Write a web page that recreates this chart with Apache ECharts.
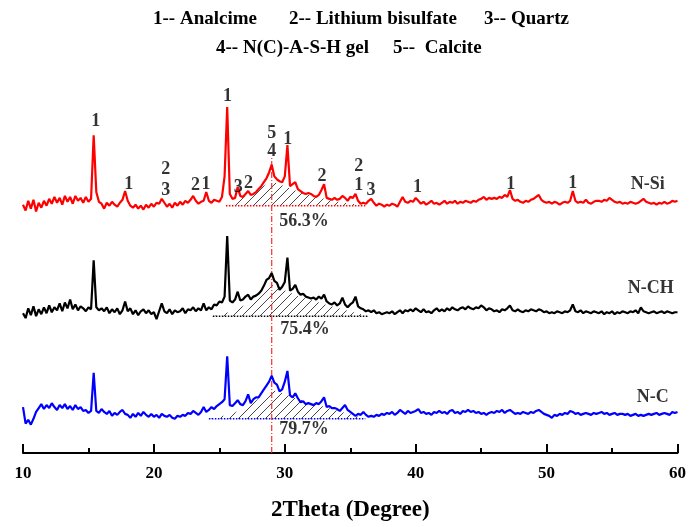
<!DOCTYPE html>
<html>
<head>
<meta charset="utf-8">
<script src="https://cdn.jsdelivr.net/npm/echarts@6/dist/echarts.min.js"></script>
<style>
html, body { margin: 0; padding: 0; background: #fff; }
#main { width: 689px; height: 527px; }
</style>
</head>
<body>
<div id="main"></div>
<script>
// 2θ scan grid, 0.2 degree step
var twoTheta = [];
for (var i = 0; i <= 250; i++) twoTheta.push(+(10 + i * 0.2).toFixed(1));

// intensities, relative to each pattern's baseline
var nSi = [
    1, -5, 5, -3, 6, -6, 3, -2, 5, 0,
    7, 2, 9, 3, 8, 1, 10, 4, 9, 2,
    10, 5, 8, 3, 9, 4, 7, 72, 14, 4,
    2, -3, 3, 0, 4, 1, -1, 3, 6, 15,
    5, 0, -2, 1, -3, 0, -4, 1, -2, 2,
    -1, 3, 2, 7, 3, -1, 2, -2, 3, 0,
    4, 1, 5, 3, 6, 10, 5, 2, 4, 5,
    14, 5, 3, 6, 5, 4, 9, 30, 101, 12,
    7, 8, 19, 10, 9, 12, 15, 11, 12, 14,
    17, 20, 24, 28, 34, 42, 30, 27, 25, 24,
    30, 62, 20, 22, 24, 17, 15, 13, 12, 13,
    12, 10, 9, 11, 16, 22, 8, 7, 6, 8,
    6, 7, 10, 8, 5, 9, 8, 12, 5, 2,
    3, 2, 5, 7, 3, 0, 2, 1, -1, 1,
    0, 2, 1, -1, 4, 9, 4, 3, 5, 4,
    8, 5, 2, 4, 1, 3, 5, 2, 3, 1,
    3, 5, 2, 4, 3, 5, 2, 4, 3, 5,
    4, 3, 5, 4, 6, 7, 9, 6, 8, 7,
    8, 7, 9, 8, 11, 9, 16, 7, 5, 6,
    4, 3, 5, 4, 6, 7, 9, 11, 6, 4,
    3, 4, 2, 4, 3, 1, 3, 4, 3, 5,
    15, 5, 3, 4, 3, 6, 3, 2, 4, 5,
    5, 4, 6, 5, 8, 6, 4, 3, 4, 2,
    3, 2, 4, 3, 2, 3, 5, 7, 4, 3,
    2, 3, 1, 3, 2, 4, 2, 3, 5, 4,
    5
];
var nCH = [
    3, -2, 8, 1, 10, 0, 7, 2, 9, 3,
    11, 4, 9, 6, 13, 5, 14, 8, 17, 7,
    12, 6, 10, 8, 5, 9, 7, 57, 9, 6,
    8, 5, 9, 3, 7, 4, 8, 2, 6, 15,
    5, 8, 2, 6, 1, 5, 7, 3, 6, 2,
    4, -3, 5, 13, 5, 3, 7, 2, 6, 4,
    5, 8, 3, 7, 6, 9, 5, 8, 6, 13,
    6, 9, 7, 12, 11, 15, 14, 20, 82, 16,
    14, 17, 25, 16, 17, 20, 22, 17, 20, 21,
    23, 26, 31, 37, 39, 44, 36, 34, 27, 30,
    35, 60, 26, 28, 32, 25, 22, 23, 20, 19,
    18, 19, 17, 20, 18, 22, 15, 13, 12, 14,
    11, 13, 19, 12, 9, 12, 14, 20, 10, 8,
    7, 5, 6, 4, 6, 3, 4, 2, 3, 4,
    3, 5, 2, 4, 6, 3, 6, 5, 7, 5,
    8, 6, 4, 7, 4, 5, 3, 6, 8, 5,
    7, 5, 8, 6, 9, 7, 6, 8, 9, 7,
    10, 8, 7, 9, 8, 11, 9, 6, 8, 7,
    5, 6, 4, 7, 6, 8, 11, 6, 5, 7,
    5, 4, 6, 5, 7, 6, 5, 7, 6, 4,
    5, 3, 4, 3, 5, 4, 3, 5, 4, 6,
    12, 5, 4, 6, 3, 5, 4, 3, 5, 4,
    3, 5, 2, 4, 3, 5, 2, 4, 3, 5,
    4, 3, 5, 4, 6, 3, 9, 5, 4, 3,
    4, 5, 3, 4, 5, 3, 5, 4, 3, 4,
    4
];
var nC = [
    12, -5, -1, -6, 0, 7, 11, 15, 10, 14,
    11, 16, 12, 9, 14, 11, 15, 10, 13, 9,
    14, 10, 12, 8, 9, 6, 8, 47, 8, 6,
    10, 7, 5, 8, 3, 6, 4, 7, 9, 5,
    4, 1, 5, 2, 6, 3, 7, 4, 2, 5,
    2, 4, 1, 5, 3, 2, 4, 1, 0, 3,
    2, 4, 3, 6, 5, 8, 6, 4, 7, 12,
    7, 9, 12, 10, 13, 15, 17, 20, 64, 14,
    13, 16, 19, 15, 14, 18, 25, 16, 20, 22,
    22, 26, 30, 34, 38, 44, 37, 35, 28, 30,
    38, 49, 24, 22, 26, 21, 17, 18, 15, 16,
    15, 14, 16, 15, 18, 22, 12, 13, 11, 11,
    10, 8, 11, 14, 9, 7, 5, 3, 5, 4,
    7, 4, 2, 3, 2, 4, 3, 5, 4, 6,
    5, 7, 4, 6, 9, 7, 5, 8, 6, 7,
    8, 10, 6, 7, 5, 6, 4, 7, 6, 8,
    6, 7, 5, 8, 9, 6, 7, 5, 8, 7,
    9, 7, 8, 6, 7, 5, 6, 4, 6, 7,
    6, 8, 7, 9, 6, 8, 9, 7, 5, 6,
    5, 7, 6, 5, 7, 6, 8, 9, 7, 5,
    4, 3, 1, 4, 3, 5, 4, 6, 5, 8,
    7, 5, 6, 4, 5, 6, 5, 4, 6, 5,
    6, 7, 5, 6, 4, 5, 6, 4, 5, 5,
    4, 5, 3, 4, 5, 3, 4, 3, 4, 5,
    4, 5, 6, 4, 5, 6, 5, 4, 7, 6,
    7
];

// vertical offsets of the stacked patterns
var offSi = 253, offCH = 140, offC = 35;

// amorphous N(C)-A-S-H hump (hatched), [2θ, height]
var humpSi = [[25.5, 0], [27.2, 11], [29.0, 25], [31.1, 14], [33.6, 5], [36.15, 0]];
var humpCH = [[24.5, 0], [26.0, 5], [27.5, 15], [29.0, 32], [31.1, 20], [33.6, 10], [36.4, 0]];
var humpC = [[24.2, 0], [26.0, 5], [27.5, 16], [29.0, 30], [31.1, 20], [33.6, 10], [36.15, 0]];

// phase labels over N-Si peaks: [2θ, y, text]
var peakLabels = [
    [15.56, 339, '1'], [18.07, 275, '1'], [20.9, 290, '2'], [20.9, 269, '3'],
    [23.17, 274, '2'], [23.98, 275, '1'], [25.62, 365, '1'], [26.44, 272, '3'],
    [27.22, 276, '2'], [29.0, 327, '5'], [29.0, 309, '4'], [30.22, 321, '1'],
    [32.85, 283, '2'], [35.65, 293, '2'], [35.65, 274, '1'], [36.58, 269, '3'],
    [40.14, 272, '1'], [47.27, 275, '1'], [52.0, 276, '1']
];
var sampleLabels = [[57.72, 275, 'N-Si'], [57.95, 168, 'N-CH'], [58.1, 57, 'N-C']];
var percentLabels = [[31.46, 237, '56.3%'], [31.54, 127, '75.4%'], [31.46, 24, '79.7%']];
var gelLine = [[29.0, 0], [29.0, 302]];

var headerRow1 = ['1-- Analcime', '2-- Lithium bisulfate', '3-- Quartz'];
var headerRow2 = ['4-- N(C)-A-S-H gel', '5--  Calcite'];

var serif = '"Liberation Serif", "Times New Roman", serif';

function hatch(step, color) {
    var c = document.createElement('canvas');
    c.width = step;
    c.height = step;
    var g = c.getContext('2d');
    g.strokeStyle = color;
    g.lineWidth = 0.9;
    g.beginPath();
    g.moveTo(0, step); g.lineTo(step, 0);
    g.moveTo(-1, 1); g.lineTo(1, -1);
    g.moveTo(step - 1, step + 1); g.lineTo(step + 1, step - 1);
    g.stroke();
    return c;
}
var hatchImg = hatch(9, '#333');

function pattern(name, color, rel, off) {
    return {
        name: name,
        type: 'line',
        data: twoTheta.map(function (x, i) { return [x, off + rel[i]]; }),
        showSymbol: false,
        lineStyle: { color: color, width: 2.2 },
        itemStyle: { color: color },
        z: 3
    };
}

// hatched hump polygon + dotted baseline under it
function humpSeries(color, hump, off) {
    var first = hump[0][0], last = hump[hump.length - 1][0];
    return [
        {
            type: 'custom', z: 2, silent: true,
            data: [0],
            renderItem: function (params, api) {
                var pts = hump.map(function (p) { return api.coord([p[0], off + p[1]]); });
                return {
                    type: 'polygon',
                    shape: { points: pts },
                    style: { fill: { image: hatchImg, repeat: 'repeat' }, stroke: null }
                };
            }
        },
        {
            type: 'line', z: 2, showSymbol: false, silent: true,
            data: [[first, off], [last, off]],
            lineStyle: { color: color, width: 1.5, type: 'dotted' }
        }
    ];
}

function textSeries(data, size) {
    return {
        type: 'scatter', z: 5, symbolSize: 1, silent: true,
        itemStyle: { color: 'rgba(0,0,0,0)' },
        data: data,
        label: {
            show: true, position: 'inside', color: '#000',
            fontFamily: serif, fontWeight: 'bold', fontSize: size,
            formatter: function (p) { return p.value[2]; }
        }
    };
}

var myChart = echarts.init(document.getElementById('main'));

var headerFont = 'bold 19px ' + serif;
var graphic = [
    { type: 'text', left: 153, top: 10, style: { text: headerRow1[0], font: headerFont, fill: '#000' } },
    { type: 'text', left: 289, top: 10, style: { text: headerRow1[1], font: headerFont, fill: '#000' } },
    { type: 'text', left: 484, top: 10, style: { text: headerRow1[2], font: headerFont, fill: '#000' } },
    { type: 'text', left: 216, top: 39, style: { text: headerRow2[0], font: headerFont, fill: '#000' } },
    { type: 'text', left: 393, top: 39, style: { text: headerRow2[1], font: headerFont, fill: '#000' } }
];

var option = {
    animation: false,
    backgroundColor: '#fff',
    graphic: graphic,
    grid: { left: 23, right: 9, top: 62, bottom: 65, containLabel: false },
    xAxis: {
        type: 'value', min: 10, max: 60, interval: 10,
        axisLine: { show: true, onZero: false, lineStyle: { color: '#000', width: 2 } },
        axisTick: { show: true, inside: true, length: 9, lineStyle: { color: '#000', width: 2 } },
        minorTick: { show: true, splitNumber: 2, length: 5, lineStyle: { color: '#000', width: 2 } },
        splitLine: { show: false },
        axisLabel: { color: '#000', fontFamily: serif, fontWeight: 'bold', fontSize: 17, margin: 12 },
        name: '2Theta (Degree)',
        nameLocation: 'middle',
        nameGap: 46,
        nameTextStyle: { color: '#000', fontFamily: serif, fontWeight: 'bold', fontSize: 23 }
    },
    yAxis: { type: 'value', min: 0, max: 400, show: false },
    series: []
        .concat(humpSeries('#ff0000', humpSi, offSi))
        .concat(humpSeries('#000000', humpCH, offCH))
        .concat(humpSeries('#0000ff', humpC, offC))
        .concat([
            {
                type: 'line', z: 2, silent: true, showSymbol: false,
                data: gelLine,
                lineStyle: { color: '#ff2a2a', width: 1.2, type: [6, 2, 1, 2] }
            },
            pattern('N-Si', '#ff0000', nSi, offSi),
            pattern('N-CH', '#000000', nCH, offCH),
            pattern('N-C', '#0000ff', nC, offC),
            textSeries(peakLabels, 18),
            textSeries(sampleLabels, 18),
            textSeries(percentLabels, 18)
        ])
};

myChart.setOption(option);
</script>
</body>
</html>
